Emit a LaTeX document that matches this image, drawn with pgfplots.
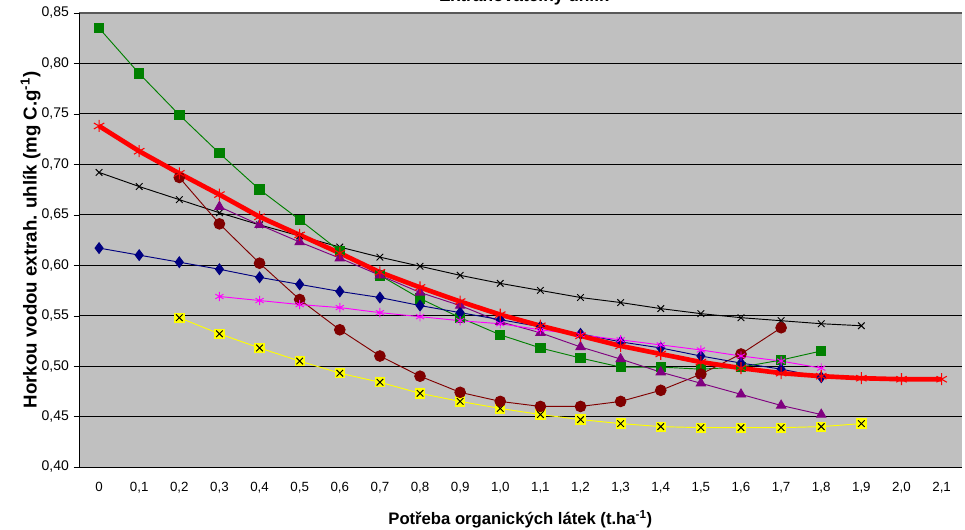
\documentclass[border=0pt]{standalone}
\usepackage{pgfplots}
\pgfplotsset{compat=1.18}
\usepackage{fontspec}
\setmainfont{Liberation Sans}
\definecolor{bggray}{HTML}{C0C0C0}
\definecolor{xgreen}{HTML}{008000}
\definecolor{xmaroon}{HTML}{800000}
\definecolor{xpurple}{HTML}{800080}
\definecolor{xnavy}{HTML}{000080}
\definecolor{xmag}{HTML}{FF00FF}
\definecolor{xyel}{HTML}{FFFF00}
\begin{document}
\begin{tikzpicture}[x=0.75pt,y=0.75pt]
\begin{axis}[
  at={(0,0)}, anchor=south west,
  scale only axis, width=662pt, height=340.5pt,
  xmin=-0.5, xmax=21.5, ymin=0.40, ymax=0.85,
  axis background/.style={fill=bggray},
  axis line style={draw=none},
  xtick={0,...,21},
  xticklabels={0,{0,1},{0,2},{0,3},{0,4},{0,5},{0,6},{0,7},{0,8},{0,9},{1,0},{1,1},{1,2},{1,3},{1,4},{1,5},{1,6},{1,7},{1,8},{1,9},{2,0},{2,1}},
  extra x ticks={-0.5,0.5,...,21.5}, extra x tick labels={},
  extra x tick style={major tick length=5pt, tick style={black}, tick align=outside},
  major x tick style={draw=none},
  ytick={0.40,0.45,...,0.86},
  yticklabel style={font=\fontsize{10.5}{12}\selectfont, /pgf/number format/.cd,fixed,fixed zerofill,precision=2,use comma,assume math mode=true},
  xticklabel style={yshift=-4pt, font=\fontsize{10}{12}\selectfont},
  ytick style={black}, tick align=outside, major tick length=4pt,
  ymajorgrids, grid style={black, line width=0.6pt},
  xtick pos=bottom, ytick pos=left,
  xlabel={\textbf{Potřeba organických látek (t.ha\textsuperscript{-1})}},
  ylabel={\textbf{Horkou vodou extrah. uhlík (mg C.g\textsuperscript{-1})}},
  xlabel style={font=\fontsize{12.5}{14}\selectfont, yshift=3pt},
  ylabel style={font=\fontsize{14}{16}\selectfont, yshift=-6pt},
  clip=false,
]
\draw[gray!70!black, line width=0.8pt] (rel axis cs:0,1) -- (rel axis cs:1,1);
\draw[black, line width=0.6pt] (rel axis cs:0,0) -- (rel axis cs:1,0);
\draw[black, line width=0.6pt] (rel axis cs:0,0) -- (rel axis cs:0,1);
% black x
\addplot[black, line width=0.7pt, mark=x, mark size=3.5pt] coordinates {
(0,0.692)(1,0.678)(2,0.665)(3,0.652)(4,0.640)(5,0.629)(6,0.618)(7,0.608)(8,0.599)(9,0.590)(10,0.582)(11,0.575)(12,0.568)(13,0.563)(14,0.557)(15,0.552)(16,0.548)(17,0.545)(18,0.542)(19,0.540)};
% yellow
\addplot[xyel, line width=0.7pt, mark=square*, mark size=3.5pt, mark options={fill=xyel, draw=xyel}] coordinates {
(2,0.548)(3,0.532)(4,0.518)(5,0.505)(6,0.493)(7,0.484)(8,0.473)(9,0.465)(10,0.458)(11,0.452)(12,0.447)(13,0.443)(14,0.440)(15,0.439)(16,0.439)(17,0.439)(18,0.440)(19,0.443)};
\addplot[only marks, black, mark=x, mark size=3.5pt, line width=0.7pt] coordinates {
(2,0.548)(3,0.532)(4,0.518)(5,0.505)(6,0.493)(7,0.484)(8,0.473)(9,0.465)(10,0.458)(11,0.452)(12,0.447)(13,0.443)(14,0.440)(15,0.439)(16,0.439)(17,0.439)(18,0.440)(19,0.443)};
% green squares
\addplot[xgreen, line width=0.7pt, mark=square*, mark size=3.5pt, mark options={fill=xgreen}] coordinates {
(0,0.835)(1,0.790)(2,0.749)(3,0.711)(4,0.675)(5,0.645)(6,0.614)(7,0.590)(8,0.567)(9,0.548)(10,0.531)(11,0.518)(12,0.508)(13,0.499)(14,0.499)(15,0.497)(16,0.499)(17,0.506)(18,0.515)};
% maroon circles
\addplot[xmaroon, line width=0.7pt, mark=*, mark size=4pt, mark options={fill=xmaroon}] coordinates {
(2,0.687)(3,0.641)(4,0.602)(5,0.566)(6,0.536)(7,0.510)(8,0.490)(9,0.474)(10,0.465)(11,0.460)(12,0.460)(13,0.465)(14,0.476)(15,0.492)(16,0.512)(17,0.538)};
% purple triangles
\addplot[xpurple, line width=0.7pt, mark=triangle*, mark size=4pt, mark options={fill=xpurple}] coordinates {
(3,0.658)(4,0.640)(5,0.623)(6,0.607)(7,0.590)(8,0.573)(9,0.560)(10,0.544)(11,0.533)(12,0.519)(13,0.507)(14,0.494)(15,0.483)(16,0.472)(17,0.461)(18,0.452)};
% navy diamonds
\addplot[xnavy, line width=0.7pt, mark=diamond*, mark size=4pt, mark options={fill=xnavy}] coordinates {
(0,0.617)(1,0.610)(2,0.603)(3,0.596)(4,0.588)(5,0.581)(6,0.574)(7,0.568)(8,0.560)(9,0.553)(10,0.546)(11,0.539)(12,0.532)(13,0.524)(14,0.518)(15,0.510)(16,0.503)(17,0.497)(18,0.489)};
% magenta asterisks
\addplot[xmag, line width=0.7pt, mark=asterisk, mark size=3.5pt] coordinates {
(3,0.569)(4,0.565)(5,0.561)(6,0.558)(7,0.553)(8,0.549)(9,0.545)(10,0.542)(11,0.536)(12,0.531)(13,0.526)(14,0.521)(15,0.516)(16,0.510)(17,0.505)(18,0.498)};
% red thick
\addplot[red, line width=3.5pt, mark=asterisk, mark size=4.5pt, mark options={line width=0.8pt}] coordinates {
(0,0.738)(1,0.713)(2,0.691)(3,0.670)(4,0.648)(5,0.630)(6,0.612)(7,0.593)(8,0.578)(9,0.564)(10,0.551)(11,0.540)(12,0.530)(13,0.520)(14,0.512)(15,0.504)(16,0.498)(17,0.493)(18,0.490)(19,0.488)(20,0.487)(21,0.487)};
\end{axis}
\node[anchor=base, font=\fontsize{13}{15}\selectfont\bfseries, inner sep=0pt] at (445,465) {Extrahovatelný uhlík};
\pgfresetboundingbox
\useasboundingbox (-79,-63) rectangle (886,467);
\end{tikzpicture}
\end{document}
